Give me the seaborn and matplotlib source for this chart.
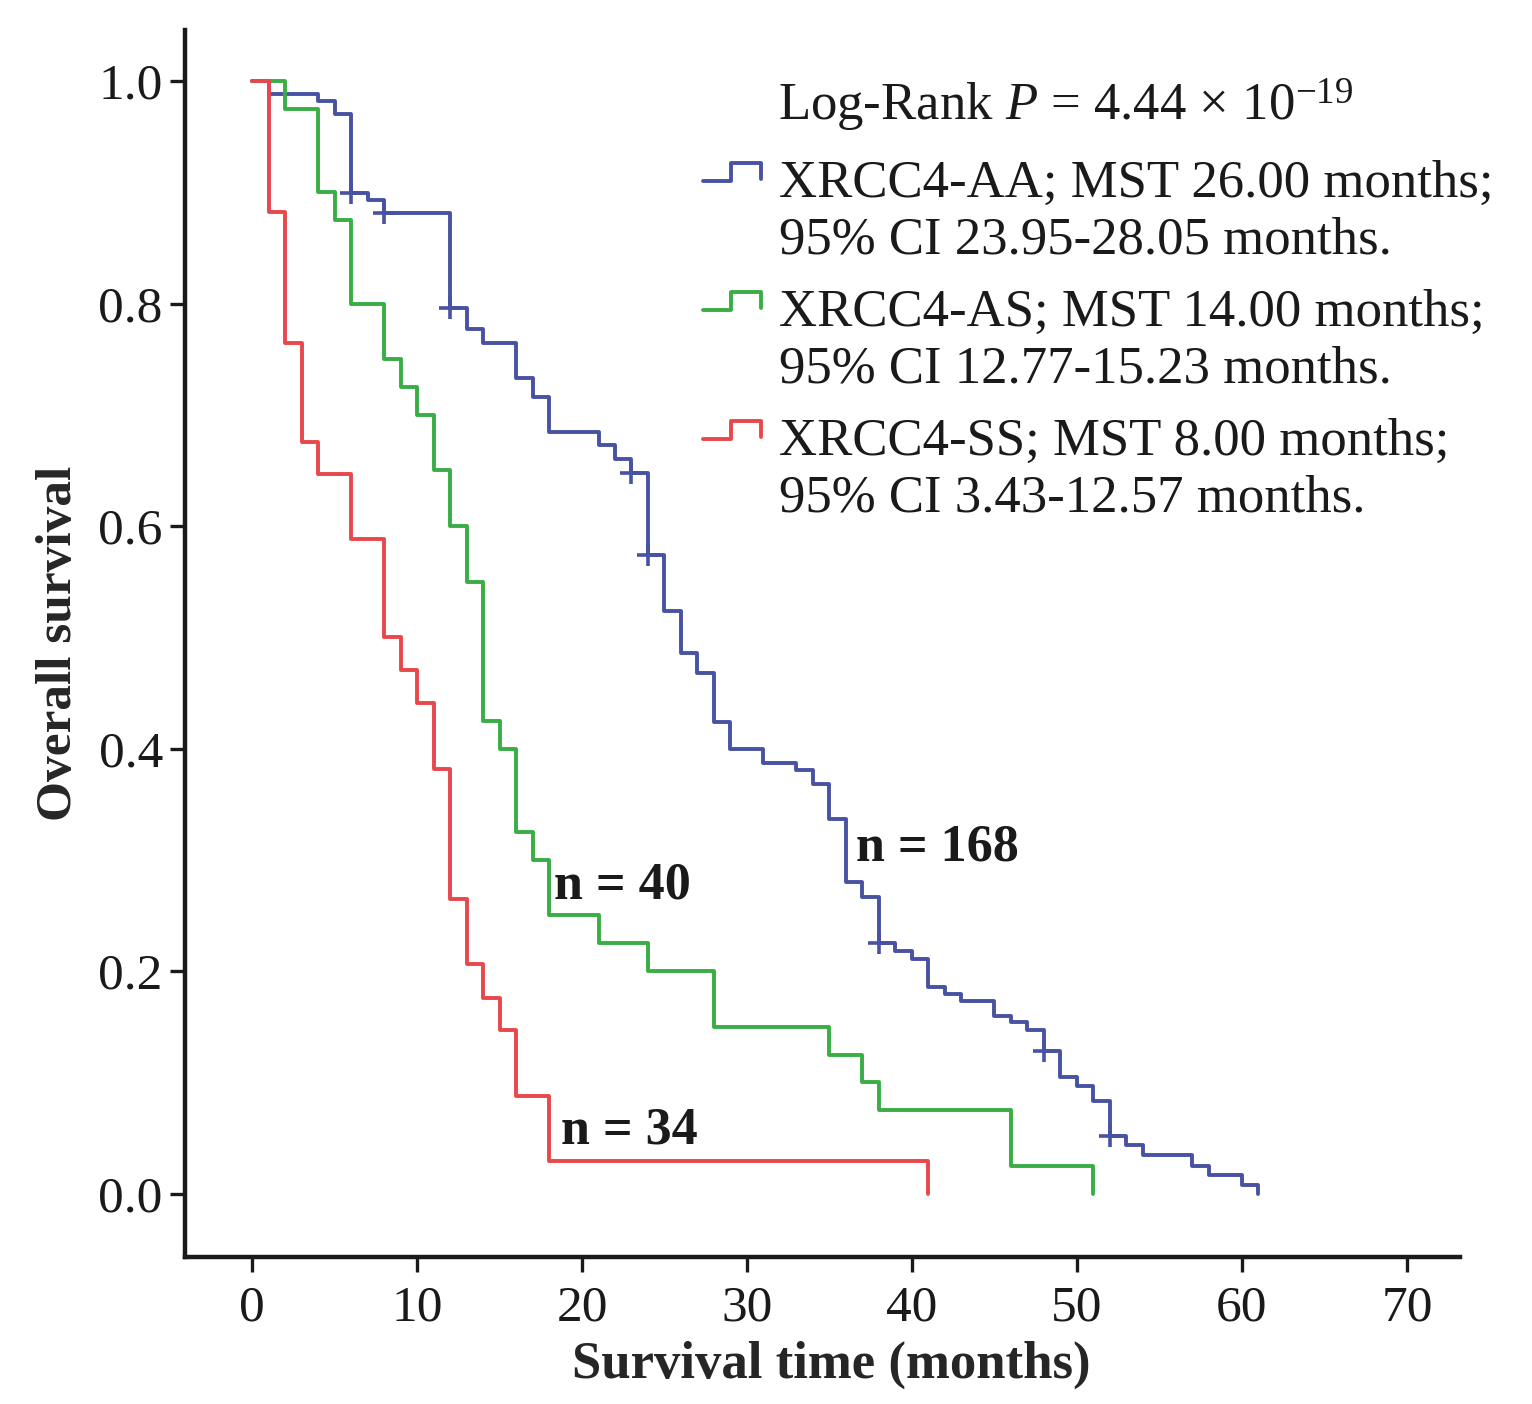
import numpy as np
import pandas as pd
import seaborn as sns
import matplotlib.pyplot as plt
from matplotlib.lines import Line2D
from matplotlib.legend_handler import HandlerBase

# values (months, survival after each step)
aa_time = [0, 1, 4, 5, 6, 7, 8, 12, 13, 14, 16, 17, 18, 21, 22, 23, 24, 25, 26, 27, 28, 29,
           31, 33, 34, 35, 36, 37, 38, 39, 40, 41, 42, 43, 45, 46, 47, 48, 49, 50, 51, 52,
           53, 54, 57, 58, 60, 61]
aa_surv = [1.0, 0.988, 0.982, 0.970, 0.899, 0.893, 0.881, 0.796, 0.777, 0.765, 0.733, 0.716,
           0.685, 0.673, 0.660, 0.648, 0.574, 0.524, 0.486, 0.468, 0.424, 0.400, 0.387, 0.381,
           0.368, 0.337, 0.280, 0.267, 0.225, 0.218, 0.211, 0.186, 0.179, 0.173, 0.160, 0.154,
           0.147, 0.128, 0.105, 0.097, 0.083, 0.052, 0.044, 0.035, 0.025, 0.017, 0.008, 0.0]
aa_cens_time = [6, 8, 12, 23, 24, 38, 48, 52]
aa_cens_surv = [0.899, 0.881, 0.796, 0.648, 0.574, 0.225, 0.128, 0.052]

as_time = [0, 2, 4, 5, 6, 8, 9, 10, 11, 12, 13, 14, 15, 16, 17, 18, 21, 24, 28, 35, 37, 38, 46, 51]
as_surv = [1.0, 0.975, 0.900, 0.875, 0.800, 0.750, 0.725, 0.700, 0.650, 0.600, 0.550, 0.425,
           0.400, 0.325, 0.300, 0.250, 0.225, 0.200, 0.150, 0.125, 0.100, 0.075, 0.025, 0.0]

ss_time = [0, 1, 2, 3, 4, 6, 8, 9, 10, 11, 12, 13, 14, 15, 16, 18, 41]
ss_surv = [1.0, 0.882, 0.765, 0.676, 0.647, 0.588, 0.500, 0.471, 0.441, 0.382, 0.265, 0.206,
           0.176, 0.147, 0.088, 0.029, 0.0]

grupos = ['XRCC4-AA', 'XRCC4-AS', 'XRCC4-SS']
cores = ['#4852a3', '#3aad45', '#e8474c']
rotulos = ['XRCC4-AA; MST 26.00 months;\n95% CI 23.95-28.05 months.',
           'XRCC4-AS; MST 14.00 months;\n95% CI 12.77-15.23 months.',
           'XRCC4-SS; MST 8.00 months;\n95% CI 3.43-12.57 months.']
n_texto = ['n = 168', 'n = 40', 'n = 34']
n_x = [36.6, 18.3, 18.7]
n_y = [0.311, 0.277, 0.057]

curvas = pd.concat([
    pd.DataFrame({'tempo': aa_time, 'sobrevida': aa_surv, 'grupo': grupos[0]}),
    pd.DataFrame({'tempo': as_time, 'sobrevida': as_surv, 'grupo': grupos[1]}),
    pd.DataFrame({'tempo': ss_time, 'sobrevida': ss_surv, 'grupo': grupos[2]}),
])
censura = pd.DataFrame({'tempo': aa_cens_time, 'sobrevida': aa_cens_surv})

sns.set_style('ticks')
plt.rcParams['font.family'] = ['Liberation Serif', 'DejaVu Serif']
plt.rcParams['mathtext.fontset'] = 'custom'
plt.rcParams['mathtext.rm'] = 'Liberation Serif'
plt.rcParams['mathtext.it'] = 'Liberation Serif:italic'


class StepHandler(HandlerBase):
    # small step glyph like the one used by SPSS legends
    def create_artists(self, legend, orig_handle, xdescent, ydescent, width, height, fontsize, trans):
        meio = (height - ydescent) / 2 + 0.76 * fontsize
        baixo = meio - 0.17 * fontsize
        alto = meio + 0.17 * fontsize
        xs = np.array([0, 0.48, 0.48, 1, 1]) * width - xdescent
        ys = [baixo, baixo, alto, alto, baixo + 0.03 * fontsize]
        linha = Line2D(xs, ys, color=orig_handle.get_color(), lw=orig_handle.get_linewidth())
        linha.set_transform(trans)
        return [linha]


fig = plt.figure(figsize=(15.32, 14.04), dpi=100)
ax = fig.add_axes([0.1208, 0.1047, 0.832, 0.874])

for g, c in zip(grupos, cores):
    sns.lineplot(data=curvas[curvas['grupo'] == g], x='tempo', y='sobrevida', color=c,
                 drawstyle='steps-post', estimator=None, errorbar=None, lw=2.8, ax=ax)

sns.scatterplot(data=censura, x='tempo', y='sobrevida', marker='+', s=240, color=cores[0],
                linewidth=2.6, ax=ax, zorder=5)

for txt, x, y in zip(n_texto, n_x, n_y):
    ax.text(x, y, txt, fontsize=37.5, fontweight='bold', va='center', ha='left', color='#1a1a1a')

ax.text(0.465, 0.926, r'Log-Rank $P$ = 4.44 × 10$^{-19}$', transform=ax.transAxes,
        fontsize=38, va='baseline', ha='left', color='#1a1a1a')

alcas = [Line2D([], [], color=c, lw=2.8) for c in cores]
leg = ax.legend(alcas, rotulos, handler_map={Line2D: StepHandler()}, loc='upper left',
                bbox_to_anchor=(0.4063, 0.894), frameon=False, fontsize=38, borderpad=0,
                borderaxespad=0, handlelength=1.1, handletextpad=0.34, labelspacing=0.47)
for t in leg.get_texts():
    t.set_color('#1a1a1a')
    t.set_linespacing(1.22)

ax.set_xlim(-4.06, 73.2)
ax.set_ylim(-0.057, 1.046)
ax.set_xticks(range(0, 71, 10))
ax.set_yticks([0.0, 0.2, 0.4, 0.6, 0.8, 1.0])
ax.set_yticklabels(['0.0', '0.2', '0.4', '0.6', '0.8', '1.0'])
ax.tick_params(direction='out', length=11, width=2.4, labelsize=37, pad=5, colors='#1a1a1a')
ax.tick_params(axis='x', pad=9)
ax.set_xlabel('Survival time (months)', fontsize=38, fontweight='bold')
ax.xaxis.set_label_coords(0.507, -0.068)
ax.set_ylabel('Overall survival', fontsize=37, fontweight='bold', labelpad=12)
for lado in ['left', 'bottom']:
    ax.spines[lado].set_linewidth(3.2)
    ax.spines[lado].set_color('#1a1a1a')
sns.despine(ax=ax)

fig.savefig('out.png', dpi=100)
